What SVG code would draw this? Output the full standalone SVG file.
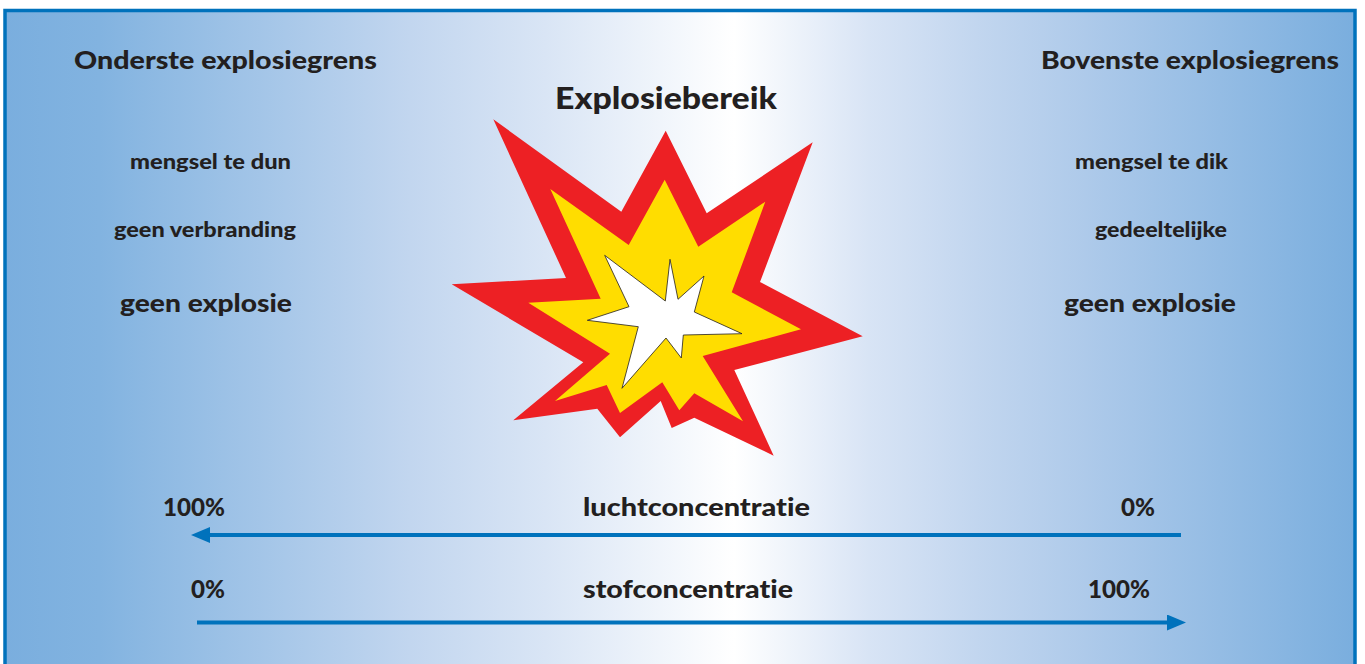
<svg xmlns="http://www.w3.org/2000/svg" width="1365" height="664" viewBox="0 0 1365 664">
<style>
text{font-family:"Lato","Open Sans","Liberation Sans",sans-serif;font-weight:900;fill:#231f20;font-variant-ligatures:none}
.h{font-size:25px}.s{font-size:21px}.b{font-size:25px}.t{font-size:31px}.c{font-size:25px}
.arrow{stroke:#0072bc;stroke-width:4;fill:none}
</style>
<defs>
<linearGradient id="bg" gradientUnits="userSpaceOnUse" x1="5" y1="0" x2="1355" y2="0">
<stop offset="0" stop-color="#7aaede"/>
<stop offset="0.07" stop-color="#82b3e0"/>
<stop offset="0.3" stop-color="#c2d6ef"/>
<stop offset="0.4" stop-color="#d9e5f5"/>
<stop offset="0.54" stop-color="#ffffff"/>
<stop offset="0.64" stop-color="#d8e4f5"/>
<stop offset="0.72" stop-color="#c2d6ef"/>
<stop offset="0.8" stop-color="#aecaea"/>
<stop offset="1" stop-color="#7aaede"/>
</linearGradient>
<marker id="head" markerUnits="userSpaceOnUse" viewBox="0 0 19 16" refX="0" refY="8" markerWidth="19" markerHeight="16" orient="auto"><path d="M0 0L19 8L0 16Z" fill="#0072bc"/></marker>
</defs>
<rect id="frame" x="5" y="10.5" width="1350" height="670" fill="url(#bg)" stroke="#0072bc" stroke-width="3.5"/>
<g id="explosion">
<polygon fill="#ed2024" points="493.3,119.3 621.3,211.7 665.7,130.7 706.7,213.3 812.7,142.3 760,282 862.7,336.3 734.3,370 773.7,455.7 694.3,417.7 671.7,428 660.7,401 620,437.3 597.3,408.7 513.3,420.3 583.3,362.3 451.7,284.3 566,278"/>
<polygon fill="#ffdd00" points="550.3,189 628.7,245 664.7,179.7 698.3,246.7 765.3,201.7 731.7,292.3 801,329.3 702.7,356 743,421.3 694.3,393.3 679.3,410.3 662.3,382.3 620,413 606.7,385 555,401 610,353.7 528.3,302.7 600.7,298.7"/>
<polygon fill="#ffffff" stroke="#231f20" stroke-width="0.8" points="604.7,255.3 665.3,301 670,259.3 678,299.3 704,276 694.3,312 742,333.7 683.3,335 681.3,358 666,338 622,388.3 638.3,326.7 587.3,320.3 629,306.7"/>
</g>
<g id="title"><text class="t" x="555" y="109" textLength="222" lengthAdjust="spacingAndGlyphs">Explosiebereik</text></g>
<g id="lower-limit">
<text class="h" x="74" y="69" textLength="303" lengthAdjust="spacingAndGlyphs">Onderste explosiegrens</text>
<text class="s" x="130" y="169" textLength="161" lengthAdjust="spacingAndGlyphs">mengsel te dun</text>
<text class="s" x="114" y="237" textLength="182" lengthAdjust="spacingAndGlyphs">geen verbranding</text>
<text class="b" x="120" y="312" textLength="172" lengthAdjust="spacingAndGlyphs">geen explosie</text>
</g>
<g id="upper-limit">
<text class="h" x="1041" y="69" textLength="298" lengthAdjust="spacingAndGlyphs">Bovenste explosiegrens</text>
<text class="s" x="1075" y="169" textLength="153" lengthAdjust="spacingAndGlyphs">mengsel te dik</text>
<text class="s" x="1095" y="237" textLength="132" lengthAdjust="spacingAndGlyphs">gedeeltelijke</text>
<text class="b" x="1064" y="312" textLength="172" lengthAdjust="spacingAndGlyphs">geen explosie</text>
</g>
<g id="air-scale">
<text class="c" x="163" y="516" textLength="62" lengthAdjust="spacingAndGlyphs">100%</text>
<text class="c" x="583" y="516" textLength="227" lengthAdjust="spacingAndGlyphs">luchtconcentratie</text>
<text class="c" x="1121" y="516" textLength="34" lengthAdjust="spacingAndGlyphs">0%</text>
</g>
<g id="dust-scale">
<text class="c" x="191" y="598" textLength="34" lengthAdjust="spacingAndGlyphs">0%</text>
<text class="c" x="583" y="598" textLength="210" lengthAdjust="spacingAndGlyphs">stofconcentratie</text>
<text class="c" x="1088" y="598" textLength="62" lengthAdjust="spacingAndGlyphs">100%</text>
</g>
<g id="connectors">
<line class="arrow" x1="1181" y1="535" x2="210" y2="535" marker-end="url(#head)"/>
<line class="arrow" x1="197" y1="622.5" x2="1167" y2="622.5" marker-end="url(#head)"/>
</g>
</svg>
